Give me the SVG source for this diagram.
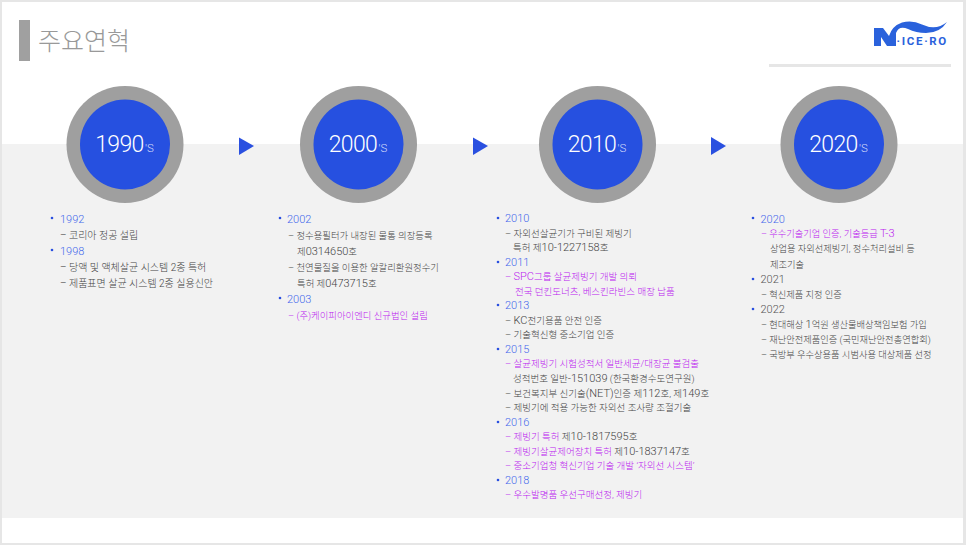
<svg xmlns="http://www.w3.org/2000/svg" width="966" height="545" viewBox="0 0 966 545">
<style>
text{font-family:Roboto,"Noto Sans CJK KR","Noto Sans",sans-serif;font-weight:300}
.t{font-size:10px;fill:#444}
.c2 .t{font-size:9.400px}
.c3 .t{font-size:9.500px}
.c4 .t{font-size:9.250px}
.t .n{font-size:11px}
.m,.t .m{fill:#bb22f0}
.y{font-size:11px;fill:#4468ec}
.g{font-size:11px;fill:#555}
.b{fill:#2a50e0}
.d{font-size:23px;fill:#fff;text-anchor:end;letter-spacing:-.7px}
.s{font-size:11.500px;fill:#d5dcfa}
.o{fill:#9f9f9f}
.i{fill:#2650e0}
.l{font-weight:700;fill:#2a62dc}
</style>
<rect width="966" height="545" fill="#e6e6e6"/>
<rect x="2" y="2" width="961" height="541" fill="#fff"/>
<rect x="2" y="144" width="961" height="374" fill="#f2f2f2"/>
<g id="title">
<rect x="19" y="20" width="11" height="41" fill="#a0a0a0"/>
<text x="38" y="50" font-size="25" fill="#999">주요연혁</text>
</g>
<g id="logo">
<rect x="769" y="64" width="182" height="3" fill="#e6e6e6"/>
<path d="M874 28H883L889 36Q892 26 902 22.500Q912 19.500 922 24.500Q936 31 947 22Q940 33 926 33Q916 33 908 29Q899 25 896 33V46H887L881 37V46H874Z" fill="#2a62dc"/>
<text class="l" x="896.500" y="45.300" font-size="11.500" letter-spacing="1.700">·ICE·RO</text>
</g>
<g id="connectors">
<polygon class="b" points="239,137.500 254,146 239,155"/>
<polygon class="b" points="473,137.500 488,146 473,155"/>
<polygon class="b" points="711,137 726,146 711,155"/>
</g>
<g id="node-1990">
<circle class="o" cx="125" cy="144.500" r="58.500"/><circle class="i" cx="125" cy="144.500" r="45"/>
<text class="d" x="143.500" y="152">1990</text><text class="s" x="145" y="152">'S</text>
<circle class="b" cx="52" cy="218" r="1.300"/><text class="y" x="60" y="223">1992</text>
<text class="t" x="60" y="239">– 코리아 정공 설립</text>
<circle class="b" cx="52" cy="250" r="1.300"/><text class="y" x="60" y="255">1998</text>
<text class="t" x="60" y="271">– 당액 및 액체살균 시스템 2종 특허</text>
<text class="t" x="60" y="287">– 제품표면 살균 시스템 2종 실용신안</text>
</g>
<g id="node-2000" class="c2">
<circle class="o" cx="358.500" cy="144.500" r="58.500"/><circle class="i" cx="358.500" cy="144.500" r="45"/>
<text class="d" x="377" y="152">2000</text><text class="s" x="378.500" y="152">'S</text>
<circle class="b" cx="280" cy="218" r="1.300"/><text class="y" x="287" y="223">2002</text>
<text class="t" x="288" y="239">– 정수용필터가 내장된 물통 의장등록</text>
<text class="t" x="297" y="255">제<tspan class="n">0314650</tspan>호</text>
<text class="t" x="288" y="271">– 천연물질을 이용한 알칼리환원정수기</text>
<text class="t" x="297" y="287">특허 제<tspan class="n">0473715</tspan>호</text>
<circle class="b" cx="280" cy="298" r="1.300"/><text class="y" x="287" y="303">2003</text>
<text class="t m" x="288" y="319">– (주)케이피아이엔디 신규법인 설립</text>
</g>
<g id="node-2010" class="c3">
<circle class="o" cx="597.500" cy="144.500" r="58.500"/><circle class="i" cx="597.500" cy="144.500" r="45"/>
<text class="d" x="616" y="152">2010</text><text class="s" x="617.500" y="152">'S</text>
<circle class="b" cx="498" cy="218" r="1.300"/><text class="y" x="505" y="222">2010</text>
<text class="t" x="505" y="236.500">– 자외선살균기가 구비된 제빙기</text>
<text class="t" x="513" y="251">특허 제<tspan class="n">10-1227158</tspan>호</text>
<circle class="b" cx="498" cy="262" r="1.300"/><text class="y" x="505" y="266">2011</text>
<text class="t m" x="505" y="280">– <tspan class="n">SPC</tspan>그룹 살균제빙기 개발 의뢰</text>
<text class="t m" x="515" y="295">전국 던킨도너츠, 베스킨라빈스 매장 납품</text>
<circle class="b" cx="498" cy="305" r="1.300"/><text class="y" x="505" y="309">2013</text>
<text class="t" x="505" y="324">– <tspan class="n">KC</tspan>전기용품 안전 인증</text>
<text class="t" x="505" y="338">– 기술혁신형 중소기업 인증</text>
<circle class="b" cx="498" cy="349" r="1.300"/><text class="y" x="505" y="353">2015</text>
<text class="t m" x="505" y="367">– 살균제빙기 시험성적서 일반세균/대장균 불검출</text>
<text class="t" x="513" y="382">성적번호 일반<tspan class="n">-151039</tspan> (한국환경수도연구원)</text>
<text class="t" x="505" y="397">– 보건복지부 신기술<tspan class="n">(NET)</tspan>인증 제<tspan class="n">112</tspan>호, 제<tspan class="n">149</tspan>호</text>
<text class="t" x="505" y="411">– 제빙기에 적용 가능한 자외선 조사량 조절기술</text>
<circle class="b" cx="498" cy="422" r="1.300"/><text class="y" x="505" y="426">2016</text>
<text class="t" x="505" y="440"><tspan class="m">– 제빙기 특허</tspan> 제<tspan class="n">10-1817595</tspan>호</text>
<text class="t" x="505" y="454.500"><tspan class="m">– 제빙기살균제어장치 특허</tspan> 제<tspan class="n">10-1837147</tspan>호</text>
<text class="t m" x="505" y="469">– 중소기업청 혁신기업 기술 개발 ‘자외선 시스템’</text>
<circle class="b" cx="498" cy="480" r="1.300"/><text class="y" x="505" y="484">2018</text>
<text class="t m" x="505" y="498">– 우수발명품 우선구매선정, 제빙기</text>
</g>
<g id="node-2020" class="c4">
<circle class="o" cx="839" cy="144.500" r="58.500"/><circle class="i" cx="839" cy="144.500" r="45"/>
<text class="d" x="857.500" y="152">2020</text><text class="s" x="859" y="152">'S</text>
<circle class="b" cx="753" cy="218" r="1.300"/><text class="y" x="760.500" y="223">2020</text>
<text class="t m" x="761" y="237">– 우수기술기업 인증, 기술등급 <tspan class="n">T-3</tspan></text>
<text class="t" x="770" y="252">상업용 자외선제빙기, 정수처리설비 등</text>
<text class="t" x="770" y="268">제조기술</text>
<circle class="b" cx="753" cy="279" r="1.300"/><text class="g" x="760.500" y="283">2021</text>
<text class="t" x="761" y="298">– 혁신제품 지정 인증</text>
<circle class="b" cx="753" cy="309" r="1.300"/><text class="g" x="760.500" y="313">2022</text>
<text class="t" x="761" y="328">– 현대해상 <tspan class="n">1</tspan>억원 생산물배상책임보험 가입</text>
<text class="t" x="761" y="343">– 재난안전제품인증 (국민재난안전총연합회)</text>
<text class="t" x="761" y="358">– 국방부 우수상용품 시범사용 대상제품 선정</text>
</g>
</svg>
